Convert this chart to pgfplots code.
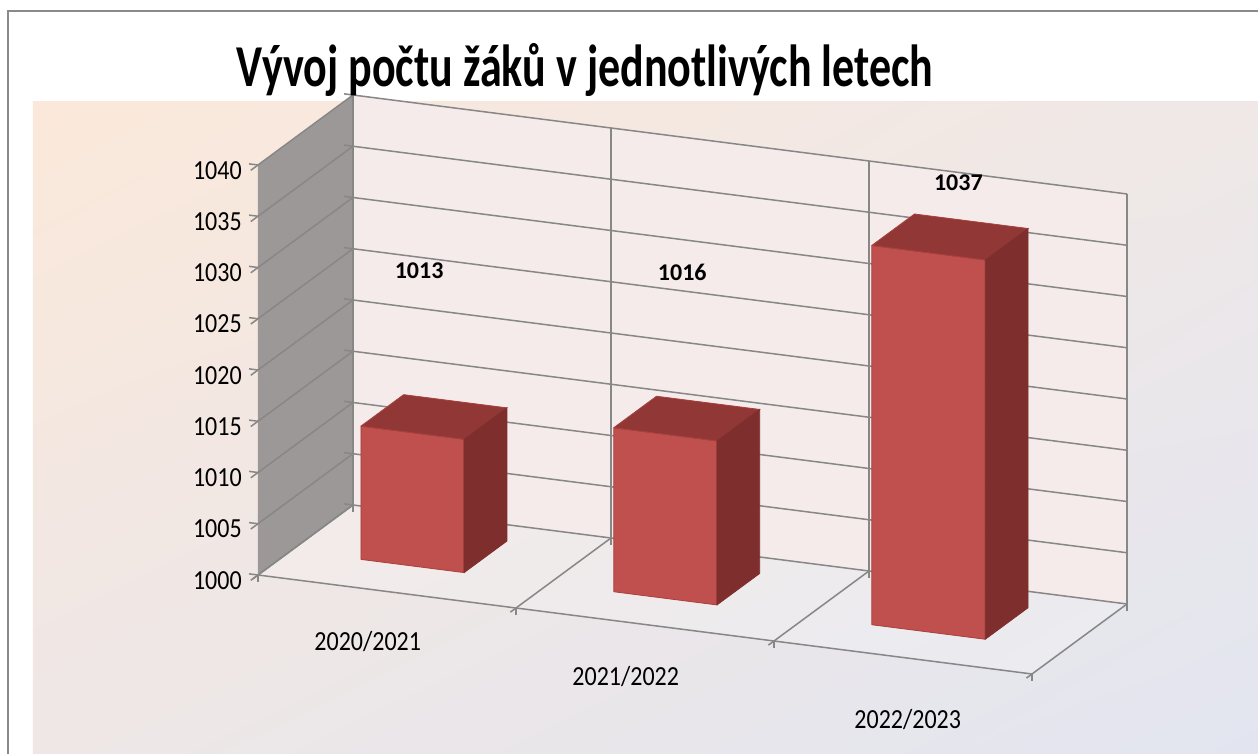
\documentclass[border=0pt]{standalone}
\usepackage{pgfplots}
\pgfplotsset{compat=1.18}
\usepackage{fontspec}
\setmainfont{Carlito}
\usepackage{graphicx}
\usetikzlibrary{calc,shadings}
\definecolor{barfront}{HTML}{C0504D}
\definecolor{bartop}{HTML}{913836}
\definecolor{barside}{HTML}{7D2E2D}
\definecolor{baredge}{HTML}{A8403D}
\definecolor{sidewall}{HTML}{9C9898}
\definecolor{backwall}{HTML}{F5EBEB}
\definecolor{gridc}{HTML}{878787}
\definecolor{framec}{HTML}{8A8A8A}
\definecolor{bgA}{HTML}{FBE8DA}
\definecolor{bgB}{HTML}{EFE8E7}
\definecolor{bgC}{HTML}{EEE7E6}
\definecolor{bgD}{HTML}{E2E5F0}
\begin{document}
\begin{tikzpicture}
\begin{axis}[
  set layers,
  x={(129pt,-16.5pt)}, y={(47.5pt,35pt)}, z={(0pt,5.125pt)},
  xmin=0, xmax=3, ymin=0, ymax=1, zmin=1000, zmax=1040,
  clip=false,
  axis line style={draw=none},
  xtick pos=left, ztick pos=left,
  xtick={0.5,1.5,2.5},
  xticklabels={\scalebox{1}[1.15]{2020/2021},\scalebox{1}[1.15]{2021/2022},\scalebox{1}[1.15]{2022/2023}},
  minor xtick={0,1,2,3},
  xminorgrids=true, xmajorgrids=false,
  major x tick style={draw=none},
  ytick=\empty,
  ztick={1000,1005,...,1040},
  zmajorgrids=true,
  grid style={gridc, line width=0.75pt},
  minor grid style={gridc, line width=0.75pt},
  tick style={gridc, line width=0.75pt},
  tick align=outside,
  major tick length=4.5pt, minor tick length=3.5pt,
  tick label style={font=\fontsize{12}{14}\selectfont, text=black},
  /pgf/number format/1000 sep={},
  /pgf/number format/assume math mode=true,
  zticklabel={\scalebox{1}[1.15]{\pgfmathprintnumber{\tick}}},
  zticklabel style={anchor=east, xshift=-1pt},
  xticklabel style={anchor=center, xshift={-6pt+12pt*(\ticknum==2)}, yshift={-22.5pt-1pt*\ticknum-4pt*(\ticknum==2)}},
]
\begin{pgfonlayer}{axis background}
  \coordinate (TL) at ($(axis cs:0,0,1000)+(-129pt,287.5pt)$);
  \fill[white] (TL) rectangle ($(TL)+(629pt,-377pt)$);
  \shade[upper left=bgA, upper right=bgB, lower left=bgC, lower right=bgD]
    ($(TL)+(16.5pt,-51pt)$) rectangle ($(TL)+(629pt,-377pt)$);
  \draw[framec, line width=1pt] ($(TL)+(4.25pt,-380pt)$) -- ($(TL)+(4.25pt,-5.75pt)$) -- ($(TL)+(632pt,-5.75pt)$);
  \fill[sidewall] (axis cs:0,0,1000) -- (axis cs:0,1,1000) -- (axis cs:0,1,1040) -- (axis cs:0,0,1040) -- cycle;
  \fill[backwall] (axis cs:0,1,1000) -- (axis cs:3,1,1000) -- (axis cs:3,1,1040) -- (axis cs:0,1,1040) -- cycle;
  \fill[white, opacity=0.2] (axis cs:0,0,1000) -- (axis cs:3,0,1000) -- (axis cs:3,1,1000) -- (axis cs:0,1,1000) -- cycle;
  \draw[gridc, line width=0.75pt] (axis cs:0,0,1000) -- (axis cs:3,0,1000);
\end{pgfonlayer}

% bar 2020/2021 = 1013
\addplot3[fill=barfront, draw=baredge, line width=0.4pt, mark=none] coordinates {(0.27,0.35,1000) (0.67,0.35,1000) (0.67,0.35,1013) (0.27,0.35,1013) (0.27,0.35,1000)};
\addplot3[fill=bartop, draw=baredge, line width=0.4pt, mark=none] coordinates {(0.27,0.35,1013) (0.67,0.35,1013) (0.67,0.8,1013) (0.27,0.8,1013) (0.27,0.35,1013)};
\addplot3[fill=barside, draw=barside, line width=0.4pt, mark=none] coordinates {(0.67,0.35,1000) (0.67,0.8,1000) (0.67,0.8,1013) (0.67,0.35,1013) (0.67,0.35,1000)};
% bar 2021/2022 = 1016
\addplot3[fill=barfront, draw=baredge, line width=0.4pt, mark=none] coordinates {(1.25,0.35,1000) (1.65,0.35,1000) (1.65,0.35,1016) (1.25,0.35,1016) (1.25,0.35,1000)};
\addplot3[fill=bartop, draw=baredge, line width=0.4pt, mark=none] coordinates {(1.25,0.35,1016) (1.65,0.35,1016) (1.65,0.8,1016) (1.25,0.8,1016) (1.25,0.35,1016)};
\addplot3[fill=barside, draw=barside, line width=0.4pt, mark=none] coordinates {(1.65,0.35,1000) (1.65,0.8,1000) (1.65,0.8,1016) (1.65,0.35,1016) (1.65,0.35,1000)};
% bar 2022/2023 = 1037
\addplot3[fill=barfront, draw=baredge, line width=0.4pt, mark=none] coordinates {(2.25,0.35,1000) (2.69,0.35,1000) (2.69,0.35,1037) (2.25,0.35,1037) (2.25,0.35,1000)};
\addplot3[fill=bartop, draw=baredge, line width=0.4pt, mark=none] coordinates {(2.25,0.35,1037) (2.69,0.35,1037) (2.69,0.8,1037) (2.25,0.8,1037) (2.25,0.35,1037)};
\addplot3[fill=barside, draw=barside, line width=0.4pt, mark=none] coordinates {(2.69,0.35,1000) (2.69,0.8,1000) (2.69,0.8,1037) (2.69,0.35,1037) (2.69,0.35,1000)};

% data labels
\addplot3[draw=none, mark=none, nodes near coords, point meta=explicit symbolic,
  nodes near coords style={anchor=center, font=\fontsize{12}{14}\selectfont\bfseries, text=black}]
  coordinates {(0.33,0.8,1025.3) [1013] (1.35,0.8,1028.4) [1016] (2.42,0.8,1040.6) [1037]};

\node[font=\fontsize{22}{26}\selectfont\bfseries, text=black] at ($(TL)+(292.5pt,-35pt)$)
  {\scalebox{1}[1.35]{Vývoj počtu žáků v jednotlivých letech}};
\end{axis}
\pgfresetboundingbox
\path[use as bounding box] (TL) rectangle ($(TL)+(629pt,-377pt)$);
\end{tikzpicture}
\end{document}
